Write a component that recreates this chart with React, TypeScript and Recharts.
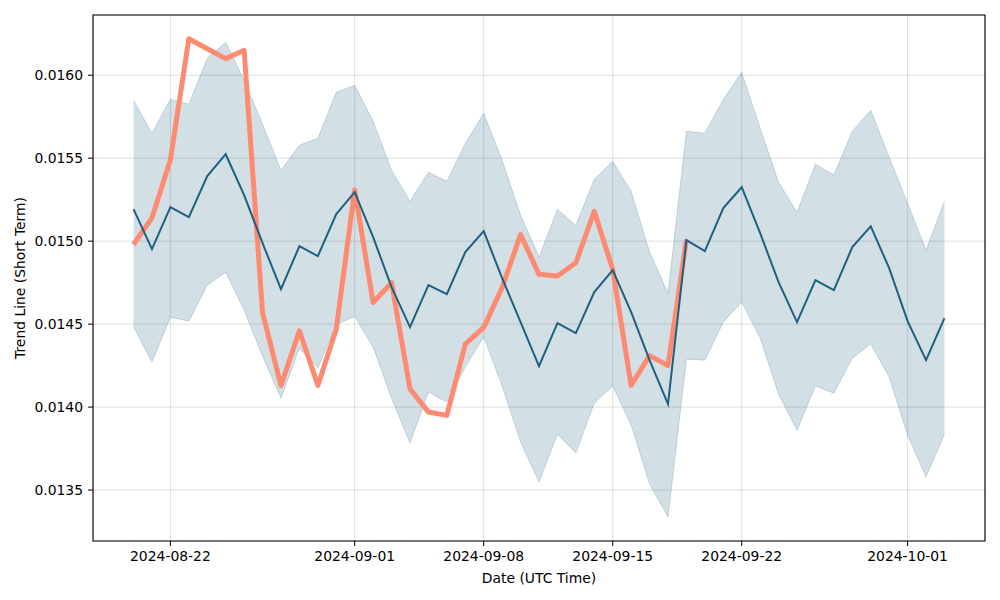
import {
  Area,
  CartesianGrid,
  ComposedChart,
  Line,
  ReferenceArea,
  XAxis,
  YAxis,
} from "recharts";

// daily observations, 2024-08-20 .. 2024-10-03
const dates = [
  "2024-08-20", "2024-08-21", "2024-08-22", "2024-08-23", "2024-08-24",
  "2024-08-25", "2024-08-26", "2024-08-27", "2024-08-28", "2024-08-29",
  "2024-08-30", "2024-08-31", "2024-09-01", "2024-09-02", "2024-09-03",
  "2024-09-04", "2024-09-05", "2024-09-06", "2024-09-07", "2024-09-08",
  "2024-09-09", "2024-09-10", "2024-09-11", "2024-09-12", "2024-09-13",
  "2024-09-14", "2024-09-15", "2024-09-16", "2024-09-17", "2024-09-18",
  "2024-09-19", "2024-09-20", "2024-09-21", "2024-09-22", "2024-09-23",
  "2024-09-24", "2024-09-25", "2024-09-26", "2024-09-27", "2024-09-28",
  "2024-09-29", "2024-09-30", "2024-10-01", "2024-10-02", "2024-10-03",
];

const trend = [
  0.015193, 0.014952, 0.015205, 0.015145, 0.015392, 0.015524, 0.015277, 0.014988, 0.014711,
  0.01497, 0.01491, 0.015163, 0.015295, 0.015024, 0.014723, 0.014482, 0.014735, 0.014681,
  0.014934, 0.01506, 0.014777, 0.014512, 0.014247, 0.014506, 0.014446, 0.014693, 0.014825,
  0.014572, 0.014283, 0.014018, 0.015006, 0.01494, 0.015199, 0.015325, 0.015048, 0.014753,
  0.014512, 0.014765, 0.014705, 0.014964, 0.01509, 0.014837, 0.014518, 0.014283, 0.014536,
];

const upper = [
  0.015849, 0.015651, 0.015855, 0.015825, 0.016102, 0.016199, 0.01597, 0.015705, 0.015428,
  0.015578, 0.01562, 0.015898, 0.01594, 0.015723, 0.015428, 0.015241, 0.015416, 0.015361,
  0.01559, 0.015771, 0.015488, 0.015157, 0.014904, 0.015193, 0.015096, 0.015373, 0.015482,
  0.015301, 0.014934, 0.014687, 0.015663, 0.015651, 0.015855, 0.016018, 0.015681, 0.015355,
  0.015175, 0.015464, 0.015398, 0.015663, 0.015789, 0.015506, 0.015229, 0.014946, 0.015241,
];

const lower = [
  0.014482, 0.014271, 0.014542, 0.014518, 0.014735, 0.014813, 0.014584, 0.014307, 0.014054,
  0.014355, 0.014235, 0.014494, 0.014548, 0.014361, 0.014054, 0.013783, 0.01409, 0.01403,
  0.014241, 0.014422, 0.014127, 0.013789, 0.013548, 0.013837, 0.013723, 0.014024, 0.014127,
  0.013892, 0.013536, 0.013337, 0.014289, 0.014283, 0.014512, 0.014633, 0.014416, 0.014078,
  0.013861, 0.014127, 0.014084, 0.014295, 0.01438, 0.014181, 0.013831, 0.013578, 0.013837,
];

// actual price only known up to 2024-09-19
const price = [
  0.01498, 0.01514, 0.01549, 0.01622, 0.01616, 0.0161, 0.01615, 0.01457, 0.01413, 0.01446,
  0.01413, 0.01447, 0.01531, 0.01463, 0.01475, 0.01411, 0.01397, 0.01395, 0.01438, 0.01448,
  0.01472, 0.01504, 0.0148, 0.01479, 0.01487, 0.01518, 0.01483, 0.01413, 0.01431, 0.01425,
  0.01501,
];

const xTickLabels = ["2024-08-22", "2024-09-01", "2024-09-08", "2024-09-15", "2024-09-22", "2024-10-01"];
const yTicks = [0.0135, 0.014, 0.0145, 0.015, 0.0155, 0.016];

const FONT = "DejaVu Sans, sans-serif";
const TREND_COLOR = "#1f5f7f";
const PRICE_COLOR = "#ff8a72";

const rows = dates.map((d, i) => ({
  t: Date.parse(d),
  band: [lower[i], upper[i]],
  trend: trend[i],
  price: i < price.length ? price[i] : null,
}));

// matplotlib-style 5% padding around the data
const t0 = rows[0].t;
const t1 = rows[rows.length - 1].t;
const xPad = (t1 - t0) * 0.05;
const xDomain: [number, number] = [t0 - xPad, t1 + xPad];
const yDomain: [number, number] = [0.013193, 0.016363];

const fmtDate = (t: number) => new Date(t).toISOString().slice(0, 10);

function XLabel(props: any) {
  const vb = props.viewBox ?? { x: 93, y: 541, width: 892, height: 59 };
  return (
    <text x={vb.x + vb.width / 2} y={578} textAnchor="middle" dominantBaseline="central" fontSize={13.9} fill="#000" fontFamily={FONT}>
      Date (UTC Time)
    </text>
  );
}

function YLabel(props: any) {
  const vb = props.viewBox ?? { x: 0, y: 15, width: 93, height: 526 };
  const cy = vb.y + vb.height / 2;
  return (
    <text x={20} y={cy} transform={`rotate(-90, 20, ${cy})`} textAnchor="middle" dominantBaseline="central" fontSize={13.9} fill="#000" fontFamily={FONT}>
      Trend Line (Short Term)
    </text>
  );
}

export default function App() {
  return (
    <div style={{ position: "absolute", left: 0, top: 0, width: 1000, height: 600, background: "#fff", fontFamily: FONT }}>
      <ComposedChart width={1000} height={600} data={rows} margin={{ top: 15, right: 15, bottom: 0, left: 0 }}>
        <CartesianGrid stroke="#000" strokeOpacity={0.13} strokeWidth={1} />
        <XAxis
          dataKey="t"
          type="number"
          scale="time"
          domain={xDomain}
          ticks={xTickLabels.map((d) => Date.parse(d))}
          tickFormatter={fmtDate}
          height={59}
          axisLine={false}
          tickLine={{ stroke: "#000" }}
          tickSize={5}
          tickMargin={5}
          tick={{ fontSize: 13.9, fill: "#000" }}
          label={<XLabel />}
          allowDataOverflow
        />
        <YAxis
          type="number"
          domain={yDomain}
          ticks={yTicks}
          tickFormatter={(v: number) => v.toFixed(4)}
          width={93}
          axisLine={false}
          tickLine={{ stroke: "#000" }}
          tickSize={5}
          tickMargin={5}
          tick={{ fontSize: 13.9, fill: "#000" }}
          label={<YLabel />}
          allowDataOverflow
        />
        <Area
          dataKey="band"
          type="linear"
          fill={TREND_COLOR}
          fillOpacity={0.2}
          stroke={TREND_COLOR}
          strokeOpacity={0.2}
          strokeWidth={1}
          isAnimationActive={false}
          activeDot={false}
        />
        <Line
          dataKey="price"
          type="linear"
          stroke={PRICE_COLOR}
          strokeWidth={5}
          strokeLinejoin="round"
          dot={false}
          activeDot={false}
          connectNulls={false}
          isAnimationActive={false}
        />
        <Line
          dataKey="trend"
          type="linear"
          stroke={TREND_COLOR}
          strokeWidth={2}
          dot={false}
          activeDot={false}
          isAnimationActive={false}
        />
        <ReferenceArea
          x1={xDomain[0]}
          x2={xDomain[1]}
          y1={yDomain[0]}
          y2={yDomain[1]}
          fill="none"
          stroke="#000"
          strokeWidth={1.1}
          ifOverflow="visible"
        />
      </ComposedChart>
    </div>
  );
}
